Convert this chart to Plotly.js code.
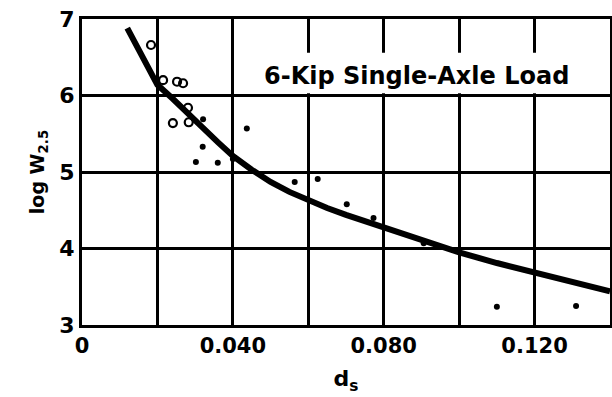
<!DOCTYPE html>
<html><head><meta charset="utf-8">
<script src="https://cdn.plot.ly/plotly-3.0.1.min.js"></script>
<style>body{margin:0;background:#fff}#chart{width:612px;height:397px}</style>
</head><body><div id="chart"></div>
<script>
// fitted curve
var curveX = [0.012, 0.016, 0.020, 0.024, 0.028, 0.032, 0.036, 0.040, 0.045, 0.050, 0.055, 0.060, 0.065, 0.070, 0.080, 0.090, 0.100, 0.110, 0.120, 0.130, 0.140];
var curveY = [6.88, 6.49, 6.14, 5.96, 5.78, 5.58, 5.39, 5.21, 5.03, 4.87, 4.74, 4.63, 4.53, 4.44, 4.27, 4.10, 3.95, 3.81, 3.68, 3.56, 3.44];
// open-circle observations
var openX = [0.0183, 0.0215, 0.0252, 0.0268, 0.0281, 0.0241, 0.0283];
var openY = [6.66, 6.20, 6.18, 6.16, 5.84, 5.64, 5.65];
// solid-dot observations
var dotX = [0.0321, 0.0320, 0.0302, 0.0360, 0.0400, 0.0437, 0.0564, 0.0625, 0.0702, 0.0773, 0.0906, 0.110, 0.131];
var dotY = [5.69, 5.33, 5.13, 5.12, 5.17, 5.57, 4.87, 4.91, 4.58, 4.40, 4.07, 3.24, 3.25];
// ticks
var xTickVals = [0, 0.04, 0.08, 0.12];
var xTickText = ['0', '0.040', '0.080', '0.120'];
var xGridVals = [0.02, 0.06, 0.10];
var yTickVals = [3, 4, 5, 6, 7];
var yTickText = ['3', '4', '5', '6', '7'];
var titleText = '6-Kip Single-Axle Load';

var font = {family: 'DejaVu Sans, Liberation Sans, sans-serif', color: '#000', weight: 'bold'};

var traces = [
  {x: curveX, y: curveY, mode: 'lines', line: {color: '#000', width: 6}, hoverinfo: 'skip'},
  {x: openX, y: openY, mode: 'markers', marker: {symbol: 'circle-open', size: 8, color: '#000', line: {width: 2.2, color: '#000'}}},
  {x: dotX, y: dotY, mode: 'markers', marker: {symbol: 'circle', size: 6, color: '#000'}}
];

var layout = {
  width: 612, height: 397,
  margin: {l: 82, r: 2, t: 19, b: 72},
  paper_bgcolor: '#fff', plot_bgcolor: '#fff',
  showlegend: false,
  font: Object.assign({size: 22}, font),
  xaxis: {
    range: [0, 0.14], tickvals: xTickVals, ticktext: xTickText,
    showgrid: true, gridcolor: '#000', gridwidth: 3,
    minor: {tickvals: xGridVals, showgrid: true, gridcolor: '#000', gridwidth: 3, ticks: ''},
    showline: true, linecolor: '#000', linewidth: 3, mirror: true,
    zeroline: false, ticks: '',
    tickfont: Object.assign({size: 21}, font),
    title: {text: 'd<sub>s</sub>', font: Object.assign({size: 22}, font), standoff: 14}
  },
  yaxis: {
    range: [3, 7], tickvals: yTickVals, ticktext: yTickText,
    showgrid: true, gridcolor: '#000', gridwidth: 3,
    showline: true, linecolor: '#000', linewidth: 3, mirror: true,
    zeroline: false, ticks: '',
    tickfont: Object.assign({size: 22}, font),
    title: {text: 'log W<sub>2.5</sub>', font: Object.assign({size: 19}, font), standoff: 10}
  },
  shapes: [{
    type: 'rect', xref: 'x', yref: 'y', x0: 0.0425, x1: 0.14, y0: 6.03, y1: 6.56,
    fillcolor: '#fff', line: {width: 0}, layer: 'between'
  }],
  annotations: [{
    xref: 'x', yref: 'y', x: 0.0887, y: 6.25, text: titleText, showarrow: false,
    font: Object.assign({size: 24}, font)
  }]
};

Plotly.newPlot('chart', traces, layout, {staticPlot: true, displayModeBar: false});
</script>
</body></html>
